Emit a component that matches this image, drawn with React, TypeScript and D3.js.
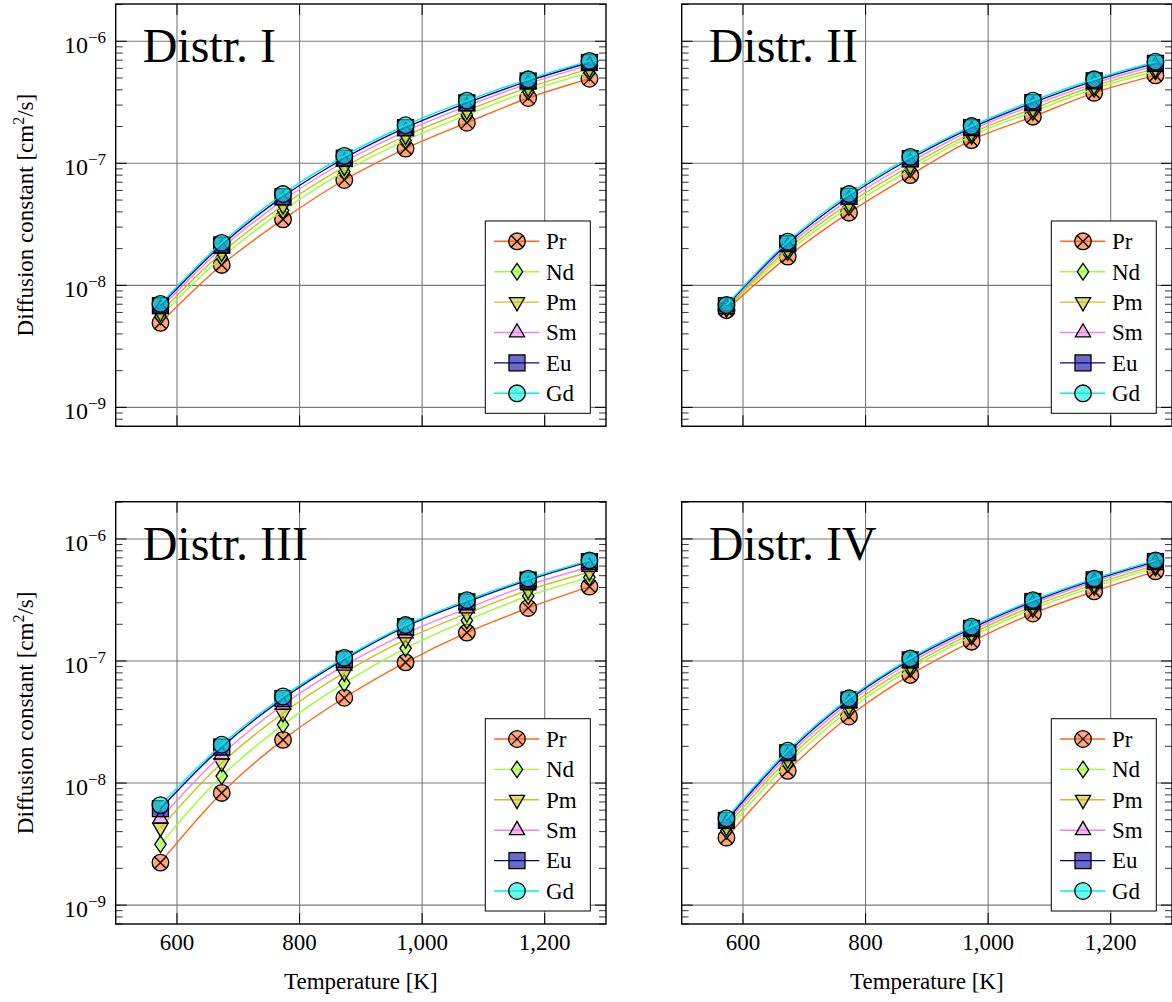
import React from 'react';
import * as d3 from 'd3';

const temperatures = [573, 673, 773, 873, 973, 1073, 1173, 1273];
const elements = ['Pr', 'Nd', 'Pm', 'Sm', 'Eu', 'Gd'];
const lineColors = ['#ff6619', '#99ff33', '#c8c21e', '#ee82ee', '#000096', '#00f0e0'];
const markerTypes = ['otimes', 'diamond', 'tridown', 'triup', 'square', 'circle'];
const panelTitles = ['Distr. I', 'Distr. II', 'Distr. III', 'Distr. IV'];
const xTicks = [600, 800, 1000, 1200];
const yTicks = [1e-9, 1e-8, 1e-7, 1e-6];
const yTickExponents = ['−9', '−8', '−7', '−6'];

// rows: Pr, Nd, Pm, Sm, Eu, Gd
const distI = [
  [4.93e-9, 1.47e-8, 3.47e-8, 7.3e-8, 1.32e-7, 2.15e-7, 3.43e-7, 4.93e-7],
  [5.58e-9, 1.70e-8, 4.10e-8, 8.55e-8, 1.54e-7, 2.49e-7, 3.88e-7, 5.56e-7],
  [6.0e-9, 1.85e-8, 4.52e-8, 9.35e-8, 1.68e-7, 2.70e-7, 4.17e-7, 5.94e-7],
  [6.44e-9, 2.01e-8, 4.97e-8, 1.03e-7, 1.83e-7, 2.94e-7, 4.48e-7, 6.37e-7],
  [6.81e-9, 2.14e-8, 5.33e-8, 1.10e-7, 1.96e-7, 3.13e-7, 4.72e-7, 6.70e-7],
  [7.05e-9, 2.23e-8, 5.6e-8, 1.15e-7, 2.05e-7, 3.26e-7, 4.88e-7, 6.9e-7],
];
const distII = [
  [6.26e-9, 1.72e-8, 3.94e-8, 8.0e-8, 1.55e-7, 2.41e-7, 3.78e-7, 5.25e-7],
  [6.44e-9, 1.87e-8, 4.38e-8, 8.89e-8, 1.68e-7, 2.64e-7, 4.08e-7, 5.68e-7],
  [6.56e-9, 1.98e-8, 4.69e-8, 9.53e-8, 1.77e-7, 2.80e-7, 4.30e-7, 5.97e-7],
  [6.70e-9, 2.09e-8, 5.04e-8, 1.02e-7, 1.87e-7, 2.98e-7, 4.52e-7, 6.30e-7],
  [6.81e-9, 2.20e-8, 5.37e-8, 1.09e-7, 1.96e-7, 3.14e-7, 4.74e-7, 6.59e-7],
  [6.9e-9, 2.28e-8, 5.6e-8, 1.13e-7, 2.02e-7, 3.26e-7, 4.88e-7, 6.8e-7],
];
const distIII = [
  [2.23e-9, 8.3e-9, 2.26e-8, 5.0e-8, 9.75e-8, 1.71e-7, 2.72e-7, 4.07e-7],
  [3.15e-9, 1.14e-8, 3.0e-8, 6.58e-8, 1.27e-7, 2.15e-7, 3.41e-7, 4.85e-7],
  [4.3e-9, 1.46e-8, 3.74e-8, 8.03e-8, 1.50e-7, 2.45e-7, 3.80e-7, 5.36e-7],
  [5.13e-9, 1.71e-8, 4.37e-8, 9.16e-8, 1.68e-7, 2.69e-7, 4.17e-7, 5.89e-7],
  [6.17e-9, 1.97e-8, 4.92e-8, 1.03e-7, 1.91e-7, 3.05e-7, 4.60e-7, 6.52e-7],
  [6.6e-9, 2.06e-8, 5.12e-8, 1.06e-7, 1.97e-7, 3.15e-7, 4.73e-7, 6.67e-7],
];
const distIV = [
  [3.57e-9, 1.26e-8, 3.51e-8, 7.69e-8, 1.44e-7, 2.45e-7, 3.72e-7, 5.43e-7],
  [4.06e-9, 1.44e-8, 3.95e-8, 8.59e-8, 1.59e-7, 2.67e-7, 4.05e-7, 5.83e-7],
  [4.36e-9, 1.56e-8, 4.24e-8, 9.14e-8, 1.68e-7, 2.81e-7, 4.25e-7, 6.08e-7],
  [4.69e-9, 1.67e-8, 4.54e-8, 9.72e-8, 1.77e-7, 2.96e-7, 4.46e-7, 6.34e-7],
  [4.94e-9, 1.77e-8, 4.79e-8, 1.02e-7, 1.85e-7, 3.07e-7, 4.62e-7, 6.53e-7],
  [5.13e-9, 1.84e-8, 4.95e-8, 1.05e-7, 1.91e-7, 3.15e-7, 4.73e-7, 6.67e-7],
];
const panelData = [distI, distII, distIII, distIV];

const W = 1172;
const H = 1002;
const PW = 490.3;
const PH = 422.3;
const panelPos = [
  { left: 115.7, top: 4, showX: false, showY: true },
  { left: 681.7, top: 4, showX: false, showY: false },
  { left: 115.7, top: 501.7, showX: true, showY: true },
  { left: 681.7, top: 501.7, showX: true, showY: false },
];
const FONT = "'Liberation Serif', 'Times New Roman', serif";
const FILL_OPACITY = 0.58;

function Marker({ type, cx, cy, color }: { type: string; cx: number; cy: number; color: string }) {
  const common = { fill: color, fillOpacity: FILL_OPACITY, stroke: '#000', strokeWidth: 1.3 } as any;
  if (type === 'otimes') {
    const r = 8.3;
    const d = r * Math.SQRT1_2;
    return (
      <g>
        <circle cx={cx} cy={cy} r={r} {...common} />
        <line x1={cx - d} y1={cy - d} x2={cx + d} y2={cy + d} stroke="#000" strokeWidth={1.3} />
        <line x1={cx - d} y1={cy + d} x2={cx + d} y2={cy - d} stroke="#000" strokeWidth={1.3} />
      </g>
    );
  }
  if (type === 'diamond') {
    return <path d={`M${cx},${cy - 8.3}L${cx + 5.7},${cy}L${cx},${cy + 8.3}L${cx - 5.7},${cy}Z`} {...common} />;
  }
  if (type === 'tridown') {
    const r = 8.8;
    const hw = r * Math.sin(Math.PI / 3);
    return <path d={`M${cx - hw},${cy - r / 2}L${cx + hw},${cy - r / 2}L${cx},${cy + r}Z`} {...common} />;
  }
  if (type === 'triup') {
    const r = 8.8;
    const hw = r * Math.sin(Math.PI / 3);
    return <path d={`M${cx - hw},${cy + r / 2}L${cx + hw},${cy + r / 2}L${cx},${cy - r}Z`} {...common} />;
  }
  if (type === 'square') {
    return <rect x={cx - 8} y={cy - 8} width={16} height={16} {...common} />;
  }
  return <circle cx={cx} cy={cy} r={8.3} {...common} />;
}

function Panel({ idx }: { idx: number }) {
  const { left, top, showX, showY } = panelPos[idx];
  const data = panelData[idx];
  const x = d3.scaleLinear().domain([500, 1300]).range([left, left + PW]);
  const y = d3.scaleLog().domain([7e-10, 2.02e-6]).range([top + PH, top]);
  const line = d3
    .line<number>()
    .x((_, i) => x(temperatures[i]))
    .y((v) => y(v))
    .curve(d3.curveCatmullRom.alpha(0.5));
  const minorTicks: number[] = [];
  for (let e = -10; e <= -6; e++) {
    for (let m = 2; m <= 9; m++) {
      const v = m * Math.pow(10, e);
      if (v > 7e-10 && v < 2.02e-6) minorTicks.push(v);
    }
  }
  const bottom = top + PH;
  const right = left + PW;
  const clipId = `clip${idx}`;
  const fmt = d3.format(',');
  const lbW = 105;
  const lbH = 192.3;
  const lbX = right - 15.7 - lbW;
  const lbY = bottom - 13 - lbH;
  return (
    <g>
      <defs>
        <clipPath id={clipId}>
          <rect x={left} y={top} width={PW} height={PH} />
        </clipPath>
      </defs>
      {xTicks.map((t) => (
        <line key={'gx' + t} x1={x(t)} x2={x(t)} y1={top} y2={bottom} stroke="#7a7a7a" strokeWidth={1.1} />
      ))}
      {yTicks.map((t) => (
        <line key={'gy' + t} x1={left} x2={right} y1={y(t)} y2={y(t)} stroke="#7a7a7a" strokeWidth={1.1} />
      ))}
      {minorTicks.map((t, i) => (
        <g key={'mt' + i}>
          <line x1={left} x2={left + 7} y1={y(t)} y2={y(t)} stroke="#000" strokeWidth={0.8} />
          <line x1={right} x2={right - 7} y1={y(t)} y2={y(t)} stroke="#000" strokeWidth={0.8} />
        </g>
      ))}
      {yTicks.map((t) => (
        <g key={'yt' + t}>
          <line x1={left} x2={left + 11} y1={y(t)} y2={y(t)} stroke="#000" strokeWidth={1} />
          <line x1={right} x2={right - 11} y1={y(t)} y2={y(t)} stroke="#000" strokeWidth={1} />
        </g>
      ))}
      {xTicks.map((t) => (
        <g key={'xt' + t}>
          <line x1={x(t)} x2={x(t)} y1={bottom} y2={bottom - 11} stroke="#000" strokeWidth={1} />
          <line x1={x(t)} x2={x(t)} y1={top} y2={top + 11} stroke="#000" strokeWidth={1} />
        </g>
      ))}
      <text x={left + 27} y={top + 58} fontFamily={FONT} fontSize={48} fill="#000">
        {panelTitles[idx]}
      </text>
      {data.map((series, si) => (
        <g key={'s' + si}>
          <path
            d={line(series) || ''}
            fill="none"
            stroke={lineColors[si]}
            strokeWidth={1.4}
            clipPath={`url(#${clipId})`}
          />
          {series.map((v, i) => (
            <Marker key={i} type={markerTypes[si]} cx={x(temperatures[i])} cy={y(v)} color={lineColors[si]} />
          ))}
        </g>
      ))}
      <rect x={lbX} y={lbY} width={lbW} height={lbH} fill="#fff" stroke="#000" strokeWidth={1} />
      {elements.map((el, i) => {
        const ry = lbY + 20.3 + i * 30.4;
        return (
          <g key={'lg' + el}>
            <line x1={lbX + 8.7} x2={lbX + 54} y1={ry} y2={ry} stroke={lineColors[i]} strokeWidth={1.4} />
            <Marker type={markerTypes[i]} cx={lbX + 31.7} cy={ry} color={lineColors[i]} />
            <text x={lbX + 60.7} y={ry + 7.8} fontFamily={FONT} fontSize={23} fill="#000">
              {el}
            </text>
          </g>
        );
      })}
      <rect x={left} y={top} width={PW} height={PH} fill="none" stroke="#000" strokeWidth={1.4} />
      {showX &&
        xTicks.map((t) => (
          <text key={'xl' + t} x={x(t)} y={bottom + 26.4} textAnchor="middle" fontFamily={FONT} fontSize={23} fill="#000">
            {fmt(t)}
          </text>
        ))}
      {showX && (
        <text x={(left + right) / 2} y={bottom + 65} textAnchor="middle" fontFamily={FONT} fontSize={23} fill="#000">
          Temperature [K]
        </text>
      )}
      {showY &&
        yTicks.map((t, i) => (
          <text key={'yl' + t} x={left - 9.7} y={y(t) + 11.6} textAnchor="end" fontFamily={FONT} fontSize={24} fill="#000">
            10
            <tspan dy={-10} fontSize={17}>
              {yTickExponents[i]}
            </tspan>
          </text>
        ))}
      {showY && (
        <text
          transform={`translate(33,${(top + bottom) / 2}) rotate(-90)`}
          textAnchor="middle"
          fontFamily={FONT}
          fontSize={23}
          fill="#000"
        >
          Diffusion constant [cm
          <tspan dy={-9} fontSize={16}>
            2
          </tspan>
          <tspan dy={9}>/s]</tspan>
        </text>
      )}
    </g>
  );
}

export default function App() {
  return (
    <svg
      width={W}
      height={H}
      viewBox={`0 0 ${W} ${H}`}
      style={{ position: 'absolute', left: 0, top: 0, background: '#fff' }}
    >
      <rect x={0} y={0} width={W} height={H} fill="#fff" />
      {[0, 1, 2, 3].map((i) => (
        <Panel key={i} idx={i} />
      ))}
    </svg>
  );
}
